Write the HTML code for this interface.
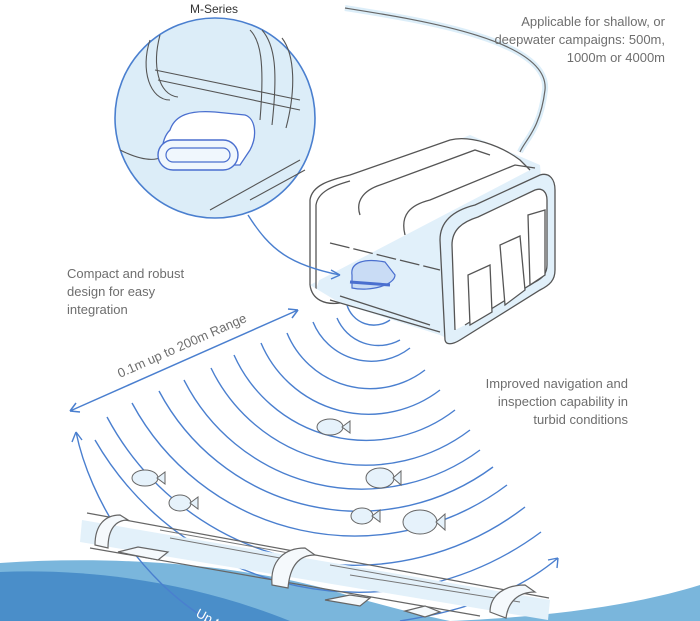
<!DOCTYPE html>
<html><head><meta charset="utf-8"><style>
html,body{margin:0;padding:0;background:#fff;}
svg{display:block;}
text{font-family:"Liberation Sans",sans-serif;fill:#6e6e6e;font-size:13px;}
</style></head><body>
<svg width="700" height="621" viewBox="0 0 700 621" xmlns="http://www.w3.org/2000/svg">
<!-- water -->
<path d="M0 563 C120 555 240 565 330 590 C380 605 420 615 450 621 L0 621Z" fill="#7ab6dc"/>
<path d="M0 572 C100 568 200 585 290 621 L0 621Z" fill="#4a8ec9"/>
<path d="M450 621 C520 618 620 610 700 585 L700 621Z" fill="#7ab6dc"/>

<!-- cable -->
<path d="M345 8 C420 20 550 40 545 90 C540 130 525 140 520 152" fill="none" stroke="#dceef9" stroke-width="6"/>
<path d="M345 8 C420 20 550 40 545 90 C540 130 525 140 520 152" fill="none" stroke="#666" stroke-width="1.2"/>

<!-- sonar arcs -->
<g fill="none" stroke="#4a7fcf" stroke-width="1.4">
<path d="M347 305 A28 28 0 0 0 390 320"/>
<path d="M337 318 A45 45 0 0 0 400 340"/>
<path d="M313 322 A63 63 0 0 0 410 348"/>
<path d="M287 333 A90 90 0 0 0 425 370"/>
<path d="M261 343 A117 117 0 0 0 440 390"/>
<path d="M234 355 A145 145 0 0 0 455 410"/>
<path d="M211 368 A172 172 0 0 0 470 430"/>
<path d="M184 380 A199 199 0 0 0 480 450"/>
<path d="M159 391 A226 226 0 0 0 493 467"/>
<path d="M132 403 A253 253 0 0 0 507 485"/>
<path d="M107 417 A280 280 0 0 0 525 507"/>
<path d="M95 440 A305 305 0 0 0 541 532"/>
</g>
<!-- white arc over water -->
<path d="M76 432 C90 500 140 580 210 621" fill="none" stroke="#4a7fcf" stroke-width="1.4"/>
<path d="M76 432 l-4 10 M76 432 l6 8" stroke="#4a7fcf" stroke-width="1.4"/>
<path d="M400 621 C470 610 520 590 558 558" fill="none" stroke="#4a7fcf" stroke-width="1.4"/>
<path d="M558 558 l-10 2 M558 558 l-1 10" stroke="#4a7fcf" stroke-width="1.4"/>
<text x="195" y="616" transform="rotate(28 195 616)" style="fill:#fff;font-size:13px">Up to</text>

<!-- range arrow -->
<path d="M70 411 L298 310" stroke="#4a7fcf" stroke-width="1.5"/>
<path d="M70 411 l10 1 M70 411 l6 -8 M298 310 l-10 -1 M298 310 l-6 8" stroke="#4a7fcf" stroke-width="1.5"/>
<text x="120" y="378" transform="rotate(-24 120 378)">0.1m up to 200m Range</text>

<!-- pipe -->
<path d="M82 520 L550 600 L548 620 L80 542Z" fill="#e3f1fa"/>
<path d="M87 513 L549 598 M90 548 L480 616" stroke="#666" stroke-width="1.2" fill="none"/>
<path d="M160 530 L300 555 M170 538 L280 558 M330 565 L470 590 M350 575 L520 602" stroke="#777" stroke-width="1" fill="none"/>
<g fill="#f5f9fc" stroke="#666" stroke-width="1.2">
<path d="M95 545 C95 525 105 515 120 515 L128 520 C115 520 108 530 108 548Z"/>
<path d="M272 585 C270 560 285 548 305 548 L315 555 C300 555 290 565 288 588Z"/>
<path d="M490 612 C490 595 505 585 525 585 L535 592 C518 592 508 602 506 618Z"/>
<path d="M118 552 l20 -5 l30 5 l-10 8 z M325 600 l25 -5 l20 3 l-10 8 z M405 611 l20 -5 l15 6 l-15 5z"/>
</g>

<!-- fish -->
<g fill="#e6f2fb" stroke="#666" stroke-width="1">
<g transform="translate(330,427)"><ellipse cx="0" cy="0" rx="13" ry="8"/><path d="M12 0 l8 -6 l0 12z"/></g>
<g transform="translate(145,478)"><ellipse cx="0" cy="0" rx="13" ry="8"/><path d="M12 0 l8 -6 l0 12z"/></g>
<g transform="translate(180,503)"><ellipse cx="0" cy="0" rx="11" ry="8"/><path d="M10 0 l8 -6 l0 12z"/></g>
<g transform="translate(380,478)"><ellipse cx="0" cy="0" rx="14" ry="10"/><path d="M13 0 l8 -7 l0 14z"/></g>
<g transform="translate(362,516)"><ellipse cx="0" cy="0" rx="11" ry="8"/><path d="M10 0 l8 -6 l0 12z"/></g>
<g transform="translate(420,522)"><ellipse cx="0" cy="0" rx="17" ry="12"/><path d="M16 0 l9 -8 l0 16z"/></g>
</g>

<!-- ROV -->
<g stroke="#555" stroke-width="1.3" fill="#fff">
<path d="M318 195 L470 135 L540 165 L550 280 L450 340 L440 335 L330 300 L310 285 Z" fill="#e1f0fa" stroke="none"/>
<path d="M310 285 L310 200 C312 185 330 180 350 175 L450 140 C470 135 500 145 520 160 L530 170"/>
<path d="M316 290 L316 205 C318 192 332 186 350 181"/>
<path d="M310 285 C312 300 325 305 340 303"/>
<path d="M360 215 C355 200 365 190 380 185 L475 150 L490 155" fill="none"/>
<path d="M405 235 C400 215 410 205 430 200 L515 165 L535 168" fill="none"/>
<path d="M445 340 L440 240 C440 220 455 210 475 205 L540 175 C550 172 555 180 555 190 L555 270 C555 280 550 285 540 290 L460 340 C452 345 446 345 445 340Z" fill="#e1f0fa"/>
<path d="M455 330 L452 245 C452 230 462 222 478 217 L535 190 C543 187 547 193 547 200 L547 265 C547 273 543 278 535 282 L465 325"/>
<path d="M470 325 L468 275 L490 265 L492 312Z M505 305 L500 245 L520 236 L525 290Z M530 285 L528 215 L545 210 L545 275Z" fill="#fff"/>
<path d="M330 300 L440 332 M340 296 L430 325" fill="none"/>
<path d="M330 243 L440 270" fill="none" stroke-dasharray="20 4"/>
</g>
<path d="M352 275 C350 262 365 258 385 262 L395 275 C395 285 370 292 352 288Z" fill="#c9dcf5" stroke="#4a6fcf" stroke-width="1.2"/>
<path d="M350 282 L390 285" stroke="#4a6fcf" stroke-width="3"/>

<!-- inset circle -->
<circle cx="215" cy="118" r="100" fill="#dcedf8" stroke="#4a7fcf" stroke-width="1.6"/>
<g stroke="#555" stroke-width="1.1" fill="none">
<path d="M155 70 L300 100 M158 80 L300 110 M250 200 L305 170 M210 210 L300 160 M120 150 C140 160 160 165 170 150"/>
<path d="M250 30 C260 40 265 60 260 120 M262 30 C275 45 278 70 272 125 M282 38 C295 55 296 90 286 128"/>
<path d="M150 40 C140 70 150 100 170 100 M160 35 C152 65 158 95 178 97"/>
</g>
<path d="M170 130 C175 115 190 110 215 112 L245 115 C255 118 258 135 250 150 L240 165 L170 165 C160 160 160 140 170 130Z" fill="#fff" stroke="#4a6fcf" stroke-width="1.3"/>
<rect x="158" y="140" width="80" height="30" rx="15" fill="#f0f7fd" stroke="#4a6fcf" stroke-width="1.4"/>
<rect x="166" y="148" width="64" height="14" rx="7" fill="none" stroke="#4a6fcf" stroke-width="1.2"/>
<path d="M248 215 C270 250 290 265 340 275" fill="none" stroke="#4a7fcf" stroke-width="1.4"/>
<path d="M340 275 l-9 -5 M340 275 l-9 4" stroke="#4a7fcf" stroke-width="1.4"/>
<text x="190" y="13" style="fill:#333;font-size:12px">M-Series</text>

<!-- labels -->
<g text-anchor="end">
<text x="665" y="26">Applicable for shallow, or</text>
<text x="665" y="44">deepwater campaigns: 500m,</text>
<text x="665" y="62">1000m or 4000m</text>
<text x="628" y="388">Improved navigation and</text>
<text x="628" y="406">inspection capability in</text>
<text x="628" y="424">turbid conditions</text>
</g>
<text x="67" y="278">Compact and robust</text>
<text x="67" y="296">design for easy</text>
<text x="67" y="314">integration</text>
</svg>
</body></html>
